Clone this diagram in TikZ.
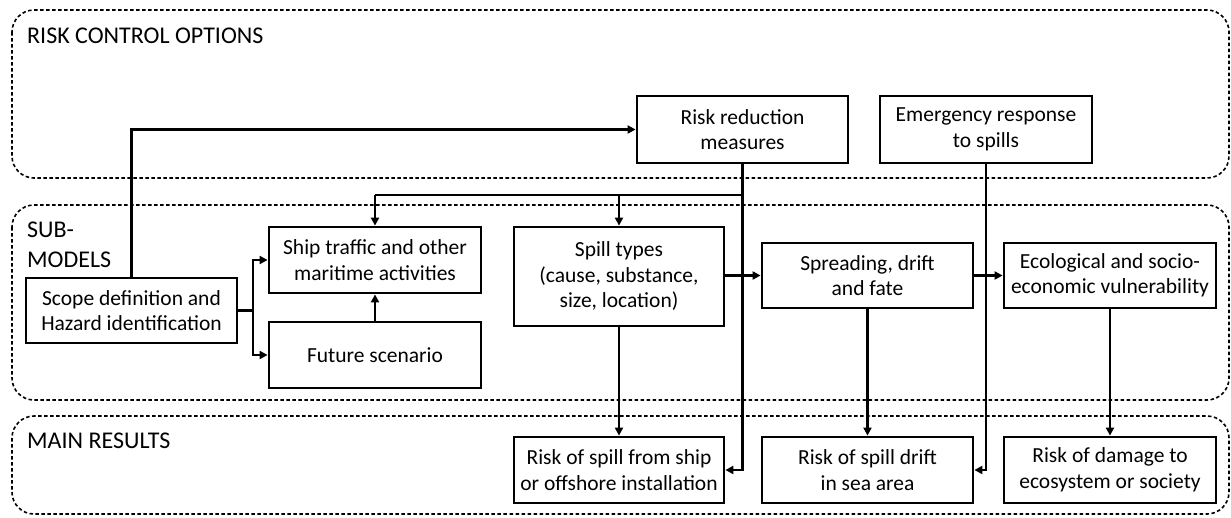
\documentclass[tikz,border=0pt]{standalone}
\usepackage{fontspec}
\setmainfont{Carlito}
\usetikzlibrary{arrows.meta}
\begin{document}
\begin{tikzpicture}[x=1pt,y=-1pt,
  region/.style={draw, line width=1.6pt, dash pattern=on 3.5pt off 2.5pt, rounded corners=22pt},
  rlabel/.style={font=\fontsize{24}{30}\selectfont, align=left, inner sep=0pt},
  box/.style={draw, line width=2.8pt, align=center, inner sep=2pt, font=\fontsize{21.5}{25.5}\selectfont},
  conn/.style={line width=2.3pt},
  arr/.style={line width=2.3pt, -{Triangle[length=8pt,width=8pt]}}]
\useasboundingbox (0,0) rectangle (1231,517);
% regions
\draw[region] (12,10) rectangle (1229,178);
\draw[region] (12,205) rectangle (1229,400);
\draw[region] (12,416) rectangle (1229,514);
\node[rlabel, anchor=base west] (lrco) at (27,43) {RISK CONTROL OPTIONS};
\node[rlabel, anchor=base west] (lsub) at (27,267) {SUB-\\MODELS};
\node[rlabel, anchor=base west] (lmain) at (27,448) {MAIN RESULTS};
% boxes
\node[box, minimum width=211pt, minimum height=67pt] (rrm) at (742.5,129.5) {Risk reduction\\measures};
\node[box, minimum width=212pt, minimum height=67pt] (erp) at (986,129.5) {Emergency response\\to spills};
\node[box, minimum width=211pt, minimum height=65pt] (scope) at (131.5,310.5) {Scope definition and\\Hazard identification};
\node[box, minimum width=212pt, minimum height=66pt] (ship) at (375,260) {Ship traffic and other\\maritime activities};
\node[box, minimum width=212pt, minimum height=66pt] (future) at (375,355) {Future scenario};
\node[box, minimum width=210pt, minimum height=99pt] (spill) at (619,276.5) {Spill types\\(cause, substance,\\size, location)};
\node[box, minimum width=211pt, minimum height=65pt] (spread) at (867.5,275.5) {Spreading, drift\\and fate};
\node[box, minimum width=212pt, minimum height=65pt] (eco) at (1110,275.5) {Ecological and socio-\\economic vulnerability};
\node[box, minimum width=210pt, minimum height=66pt] (rs1) at (619,470) {Risk of spill from ship\\or offshore installation};
\node[box, minimum width=211pt, minimum height=66pt] (rs2) at (867.5,470) {Risk of spill drift\\in sea area};
\node[box, minimum width=212pt, minimum height=66pt] (rs3) at (1110,470) {Risk of damage to\\ecosystem or society};
% connectors
\draw[arr] (scope.north) |- (rrm.west);
\coordinate (j1) at (742.5,195);
\draw[conn] (rrm.south) -- (j1) -- (ship.north |- j1);
\draw[arr] (ship.north |- j1) -- (ship.north);
\draw[arr] (spill.north |- j1) -- (spill.north);
\draw[arr] (j1) |- (rs1.east);
\draw[arr] (erp.south) |- (rs2.east);
\coordinate (j2) at (253,310.5);
\draw[conn] (scope.east) -- (j2);
\draw[arr] (j2) |- (ship.west);
\draw[arr] (j2) |- (future.west);
\draw[arr] (future.north) -- (ship.south);
\draw[arr] (spill.east |- spread.west) -- (spread.west);
\draw[arr] (spread.east) -- (eco.west);
\draw[arr] (spill.south) -- (rs1.north);
\draw[arr] (spread.south) -- (rs2.north);
\draw[arr] (eco.south) -- (rs3.north);
\end{tikzpicture}
\end{document}
